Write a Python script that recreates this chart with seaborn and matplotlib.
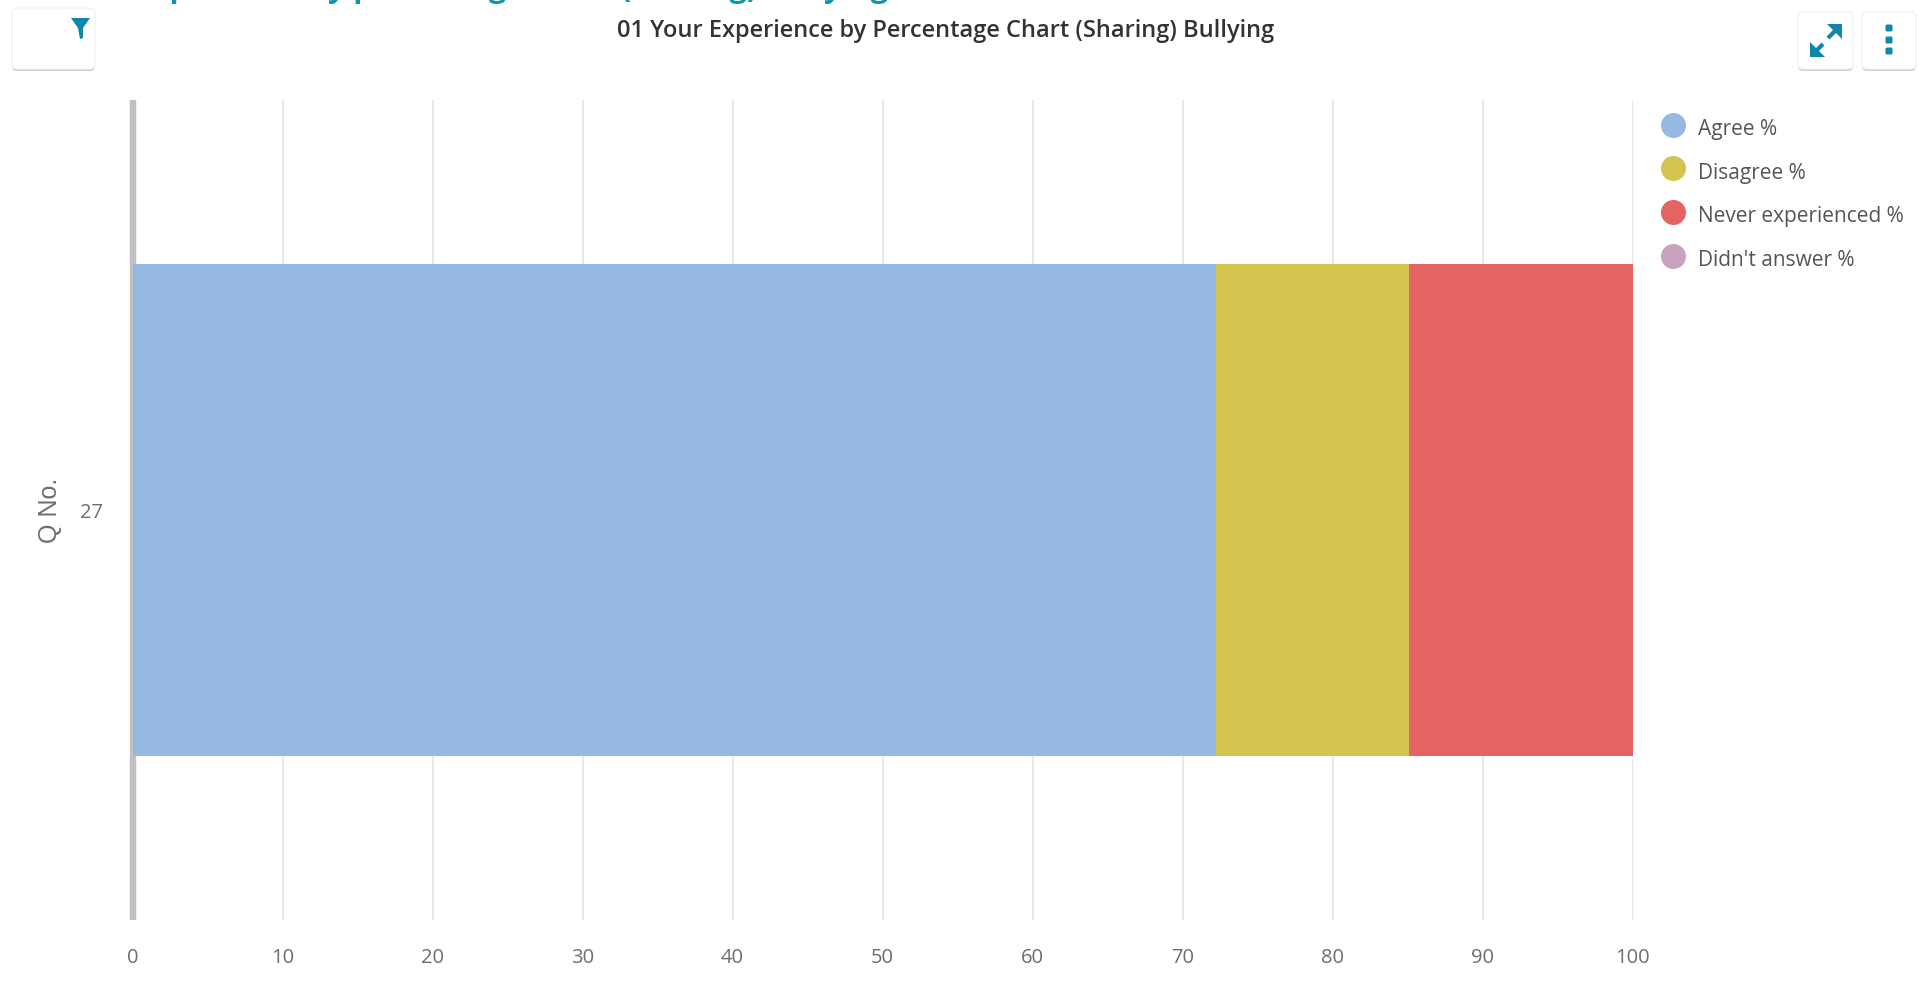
import numpy as np
import pandas as pd
import seaborn as sns
import matplotlib
matplotlib.use("Agg")
import matplotlib.pyplot as plt
from matplotlib.lines import Line2D
from matplotlib.patches import FancyBboxPatch, Polygon

categories = ["27"]
series_names = ["Agree %", "Disagree %", "Never experienced %", "Didn't answer %"]
agree = [72.2]
disagree = [12.9]
never = [14.9]
no_answer = [0.0]
series_colors = ["#95B9E0", "#D4C550", "#E66363", "#C7A3BF"]
x_ticks = [0, 10, 20, 30, 40, 50, 60, 70, 80, 90, 100]
title_text = "01 Your Experience by Percentage Chart (Sharing) Bullying"
header_text = "01 Your Experience by percentage chart (Sharing) Bullying"

sns.set_theme(style="white")
plt.rcParams["font.family"] = ["Open Sans", "DejaVu Sans"]

fig = plt.figure(figsize=(19.19, 10.05), dpi=100, facecolor="white")
W, H = 1919, 1005
ax = fig.add_axes([132.5 / W, 1 - 920 / H, 1500 / W, 820 / H])

df = pd.DataFrame({"cat": categories, "a": agree, "d": disagree, "n": never, "x": no_answer})
cols = ["a", "d", "n", "x"]
totals = df[cols].cumsum(axis=1)
for col, color in reversed(list(zip(cols, series_colors))):
    sns.barplot(data=pd.DataFrame({"cat": df["cat"], "v": totals[col]}), x="v", y="cat",
                color=color, saturation=1, width=0.6, orient="h", ax=ax, zorder=3, linewidth=0)

ax.set_xlim(0, 100)
ax.set_ylim(0.5, -0.5)
ax.set_xticks(x_ticks)
ax.set_xticklabels([str(t) for t in x_ticks])
ax.grid(axis="x", color="#E9E9E9", linewidth=1.4, zorder=0)
ax.set_axisbelow(True)
for s in ["top", "right", "bottom"]:
    ax.spines[s].set_visible(False)
ax.spines["left"].set_color("#C0C0C0")
ax.spines["left"].set_linewidth(4.6)
ax.spines["left"].set_zorder(1)
ax.spines["left"].set_capstyle("butt")
ax.tick_params(axis="x", length=0, pad=20, labelsize=14.5, labelcolor="#6E6E6E")
ax.tick_params(axis="y", length=0, pad=21, labelsize=14.5, labelcolor="#6E6E6E")
ax.set_xlabel("")
ax.set_ylabel("Q No.", fontsize=18, color="#6E6E6E", labelpad=13, family=["Liberation Sans"])

handles = [Line2D([], [], linestyle="none", marker="o", markersize=17, markerfacecolor=c,
                  markeredgecolor=c, label=n) for n, c in zip(series_names, series_colors)]
leg = fig.legend(handles=handles, loc="upper left", bbox_to_anchor=(1660 / W, 1 - 116 / H),
                 frameon=False, fontsize=15, labelcolor="#555555", labelspacing=1.09,
                 handletextpad=0.62, handlelength=1.2, borderpad=0, borderaxespad=0)
for t in leg.get_texts():
    t.set_y(-3)

# Chrome around the chart, in pixel coordinates
ov = fig.add_axes([0, 0, 1, 1], zorder=5)
ov.set_xlim(0, W)
ov.set_ylim(H, 0)
ov.axis("off")
ov.patch.set_alpha(0)


def button(x0, x1, y0, y1):
    ov.add_patch(FancyBboxPatch((x0, y0 + 2), x1 - x0, y1 - y0, boxstyle="round,pad=0,rounding_size=5",
                                fc="#C4C4C4", ec="none", alpha=0.8))
    ov.add_patch(FancyBboxPatch((x0, y0), x1 - x0, y1 - y0, boxstyle="round,pad=0,rounding_size=5",
                                fc="white", ec="#F0F0F0", lw=0.8))


teal = "#0E86AE"
button(12, 95, 8, 69)
button(1798, 1853, 12, 69)
button(1862, 1916, 12, 69)
ov.add_patch(Polygon([(71, 18), (90, 18), (83, 28), (83, 38), (80, 39), (78, 28)], closed=True, fc=teal, ec="none"))
ov.add_patch(Polygon([(1842, 24), (1827, 24), (1842, 39)], closed=True, fc=teal, ec="none"))
ov.add_patch(Polygon([(1810, 57), (1810, 42), (1825, 57)], closed=True, fc=teal, ec="none"))
ov.plot([1836, 1828], [30, 38], color=teal, lw=3, solid_capstyle="butt")
ov.plot([1815, 1823], [52, 44], color=teal, lw=3, solid_capstyle="butt")
for y in [28, 40, 51]:
    ov.add_patch(FancyBboxPatch((1885.5, y - 3.5), 7, 7, boxstyle="round,pad=0,rounding_size=1.5", fc=teal, ec="none"))

ov.text(946, 31, title_text, ha="center", va="center", fontsize=17, fontweight="semibold",
        color="#333333", family=["Open Sans"])
ov.text(14, -3, header_text, ha="left", va="baseline", fontsize=22, fontweight="bold",
        color="#0E96AE", family=["Open Sans"], clip_on=False)

fig.savefig("out.png", dpi=100)
